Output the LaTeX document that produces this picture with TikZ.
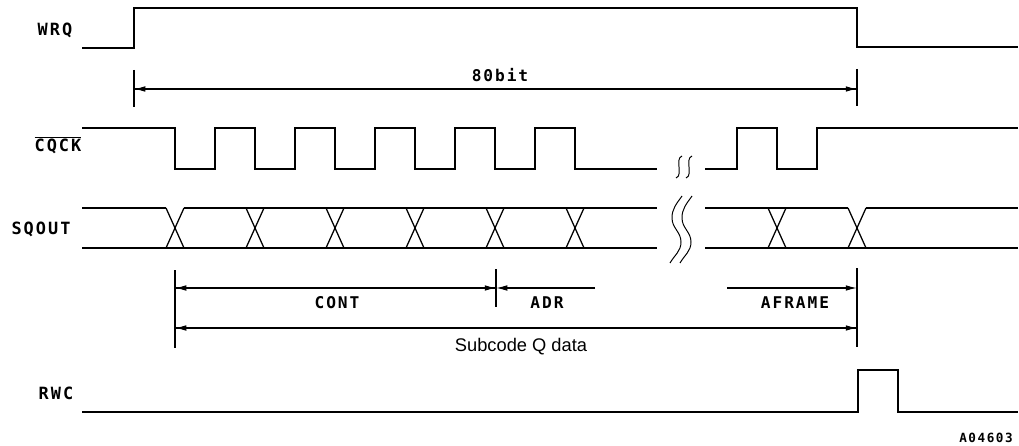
\documentclass[tikz,border=0pt]{standalone}
\usepackage{fontspec}
\setmainfont{Liberation Sans}
\newfontfamily\plotter[LetterSpace=12]{DejaVu Sans Mono}
\usetikzlibrary{positioning,arrows.meta}

\begin{document}
\begin{tikzpicture}[
  x=0.025cm, y=-0.025cm,
  every node/.style={
    inner sep=0pt,
  },
  sig/.style={line width=0.9pt},
  lbl/.style={font=\plotter\bfseries\fontsize{12}{14}\selectfont},
  dimtxt/.style={font=\plotter\bfseries\fontsize{11.5}{13}\selectfont},
  dim/.style={line width=0.8pt},
  tip/.style={-{Latex[length=8pt,width=4pt]}},
  brk/.style={line width=0.7pt},
]
\useasboundingbox (0,0) rectangle (1019,446);

% signal names
\node[lbl] (wrq) at (55,30) {WRQ};
\node[lbl] (cqck) at (58,145) {$\overline{\hbox{CQCK}}$};
\node[lbl] (sqout) at (41,229) {SQOUT};
\node[lbl] (rwc) at (56,393) {RWC};

% WRQ
\draw[sig] (82,48) -- (134,48) -- (134,8) -- (857,8) -- (857,47) -- (1018,47);

% 80bit
\coordinate (bitL) at (134,89);
\coordinate (bitR) at (857,89);
\draw[dim] (134,70) -- (134,107);
\draw[dim] (857,69) -- (857,106);
\draw[dim,tip] (bitR) -- (bitL);
\draw[dim,tip] (bitL) -- (bitR);
\node[dimtxt] (bits) at (500,75) {80bit};

% CQCK
\draw[sig] (82,128) \foreach \t in {175,255,...,495} { -- (\t,128) -- (\t,169) -- (\t+40,169) -- (\t+40,128) } -- (575,128) -- (575,169) -- (657,169);
\draw[sig] (705,169) -- (737,169) -- (737,128) -- (777,128) -- (777,169) -- (817,169) -- (817,128) -- (1018,128);
\foreach \b in {679,689}
  \draw[brk] (\b+3,156) to[out=200,in=90] (\b,167) to[out=-90,in=20] (\b-3,178);

% SQOUT
\draw[sig] (82,248) -- (657,248);
\draw[sig] (705,248) -- (1018,248);
\draw[sig] (82,208) -- (166,208);
\draw[sig] (184,208) -- (657,208);
\draw[sig] (705,208) -- (848,208);
\draw[sig] (866,208) -- (1018,208);
\foreach \t in {175,255,...,575,777,857}
  \draw[sig] (\t-9,208) -- (\t+9,248) (\t-9,248) -- (\t+9,208);
\foreach \b in {672,682}
  \draw[brk] (\b+10,196) to[out=235,in=90] (\b,218) to[out=-90,in=90] (\b+9,242) to[out=-90,in=60] (\b-2,263);

% data fields
\coordinate (datL) at (175,288);
\coordinate (adrM) at (496,288);
\coordinate (adrR) at (595,288);
\coordinate (afrL) at (727,288);
\coordinate (datR) at (857,288);
\coordinate (subL) at (175,328);
\coordinate (subR) at (857,328);
\draw[dim] (175,270) -- (175,348);
\draw[dim] (496,269) -- (496,307);
\draw[dim] (857,268) -- (857,347);
\draw[dim,tip] (adrM) -- (datL);
\draw[dim,tip] (datL) -- (adrM);
\draw[dim,tip] (adrR) -- (adrM);
\draw[dim,tip] (afrL) -- (datR);
\draw[dim,tip] (subR) -- (subL);
\draw[dim,tip] (subL) -- (subR);
\node[dimtxt] (cont) at (337,303) {CONT};
\node[dimtxt] (adr) at (547,303) {ADR};
\node[dimtxt] (aframe) at (795,303) {AFRAME};
\node[font=\fontsize{13}{15}\selectfont] (subq) at (521,347) {Subcode Q data};

% RWC
\draw[sig] (82,412) -- (858,412) -- (858,370) -- (898,370) -- (898,412) -- (1018,412);

\node[font=\plotter\bfseries\fontsize{9}{10}\selectfont] (fig) at (986,438) {A04603};
\end{tikzpicture}
\end{document}
